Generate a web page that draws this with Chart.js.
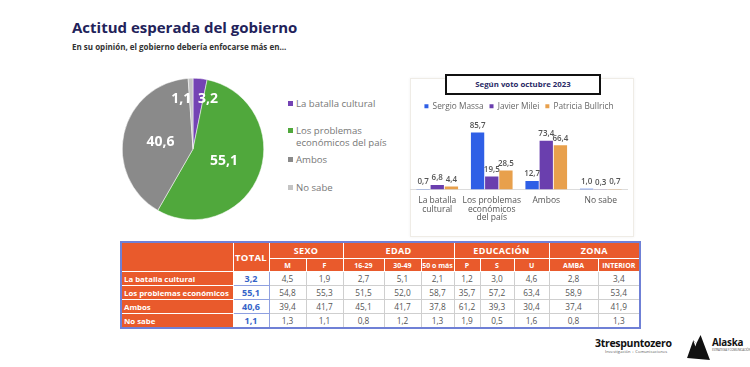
<!DOCTYPE html>
<html lang="es">
<head>
<meta charset="utf-8">
<script src="https://cdn.jsdelivr.net/npm/chart.js@4.4.1/dist/chart.umd.min.js"></script>
<style>
  html, body { margin: 0; padding: 0; background: #fff; }
  body { width: 750px; height: 367px; position: relative; overflow: hidden; font-family: "Open Sans", "Noto Sans", sans-serif; }
  .abs { position: absolute; }
  #title { left: 72px; top: 18px; font-size: 15px; font-weight: 700; color: #22225a; white-space: nowrap; line-height: 18px; }
  #subtitle { left: 72px; top: 41px; font-size: 8px; font-weight: 700; color: #333; white-space: nowrap; }
  #pieWrap { left: 122px; top: 78px; width: 142px; height: 142px; }
  #pieLegend { left: 288px; top: 95px; font-size: 9.6px; color: #777; line-height: 12px; }
  #pieLegend .item { position: absolute; left: 0; white-space: nowrap; }
  #pieLegend .sw { position: absolute; left: 0; top: 3px; width: 5px; height: 5px; }
  #pieLegend .tx { position: absolute; left: 8px; top: 0; }
  #panel { left: 410px; top: 78px; width: 222px; height: 157px; border: 1px solid #efece6; box-shadow: 0 0 3px rgba(0,0,0,0.06); }
  #panelTitle { left: 445px; top: 74px; width: 152px; height: 17px; border: 2px solid #111; background: #fff; font-size: 7.8px; font-weight: 700; color: #2a2a66; text-align: center; line-height: 17px; }
  #barWrap { left: 410px; top: 96px; width: 218px; height: 133px; }
  table { position: absolute; left: 120px; top: 241px; border-collapse: collapse; table-layout: fixed; border: 2px solid #6f80d6; }
  td, th { padding: 0; height: 13px; font-size: 8.3px; text-align: center; overflow: hidden; white-space: nowrap; }
  th { background: #e95a2c; color: #fff; font-weight: 700; border: 1px solid rgba(255,255,255,0.45); }
  th.grp { height: 15px; font-size: 9px; letter-spacing: 0.3px; }
  th.sub { font-size: 7px; height: 12px; }
  td { background: #fff; color: #555; border: 1px solid #cfcfcf; }
  td.lab { background: #e95a2c; color: #fff; font-weight: 700; text-align: left; padding-left: 2px; font-size: 7.8px; border: 1px solid rgba(255,255,255,0.35); }
  td.tot { color: #3563c8; font-weight: 700; font-size: 9px; border: 1px solid #8fa0e0; }
  #logo1 { left: 595px; top: 337px; font-size: 10.5px; line-height: 12px; font-weight: 700; color: #111; white-space: nowrap; letter-spacing: -0.3px; }
  #logo1 .sub { position: absolute; left: 10px; top: 12px; font-size: 4px; line-height: 5px; font-weight: 400; color: #555; letter-spacing: 0.1px; }
  #logo2 { left: 712px; top: 337px; font-size: 9.8px; line-height: 12px; font-weight: 700; color: #111; white-space: nowrap; letter-spacing: -0.2px; }
  #logo2 .sub { position: absolute; left: 0; top: 11px; font-size: 3px; line-height: 4px; font-weight: 400; color: #555; }
  #mount { left: 687px; top: 335px; }
</style>
</head>
<body>
<div id="title" class="abs">Actitud esperada del gobierno</div>
<div id="subtitle" class="abs">En su opinión, el gobierno debería enfocarse más en...</div>

<div id="pieWrap" class="abs"><canvas id="pieChart"></canvas></div>
<div id="pieLegend" class="abs"></div>

<div id="panel" class="abs"></div>
<div id="barWrap" class="abs"><canvas id="barChart"></canvas></div>
<div id="panelTitle" class="abs">Según voto octubre 2023</div>

<table id="tabla"></table>

<div id="logo1" class="abs">3trespuntozero<span class="sub">Investigación + Comunicaciones</span></div>
<svg id="mount" class="abs" width="23" height="25" viewBox="0 0 22 24">
  <path d="M0 22 L6 5 L9 8 L13 0 L22 24 Z" fill="#111"/>
  <path d="M6 5 L8 11 L9 8 Z" fill="#fff"/>
</svg>
<div id="logo2" class="abs">Alaska<span class="sub">ESTRATEGIA Y COMUNICACIÓN</span></div>

<script>
// datos del gráfico de torta
const pieLabels = ['La batalla cultural', ['Los problemas', 'económicos del país'], 'Ambos', 'No sabe'];
const pieValues = [3.2, 55.1, 40.6, 1.1];
const pieColors = ['#7443b4', '#50a83c', '#8a8a8a', '#c4c4c4'];

// datos según voto octubre 2023
const barCategories = [['La batalla', 'cultural'], ['Los problemas', 'económicos', 'del país'], 'Ambos', 'No sabe'];
const massaValues = [0.7, 85.7, 12.7, 1.0];
const mileiValues = [6.8, 19.5, 73.4, 0.3];
const bullrichValues = [4.4, 28.5, 66.4, 0.7];

// datos de la tabla
const rowLabels = ['La batalla cultural', 'Los problemas económicos', 'Ambos', 'No sabe'];
const totalValues = [3.2, 55.1, 40.6, 1.1];
const groupNames = ['SEXO', 'EDAD', 'EDUCACIÓN', 'ZONA'];
const groupSpans = [2, 3, 3, 2];
const subColumns = ['M', 'F', '16-29', '30-49', '50 o más', 'P', 'S', 'U', 'AMBA', 'INTERIOR'];
const batallaRow = [4.5, 1.9, 2.7, 5.1, 2.1, 1.2, 3.0, 4.6, 2.8, 3.4];
const problemasRow = [54.8, 55.3, 51.5, 52.0, 58.7, 35.7, 57.2, 63.4, 58.9, 53.4];
const ambosRow = [39.4, 41.7, 45.1, 41.7, 37.8, 61.2, 39.3, 30.4, 37.4, 41.9];
const noSabeRow = [1.3, 1.1, 0.8, 1.2, 1.3, 1.9, 0.5, 1.6, 0.8, 1.3];

const fmt = v => v.toFixed(1).replace('.', ',');

// leyenda de la torta
const legendTops = [3, 30, 59, 87];
const legendBox = document.getElementById('pieLegend');
pieLabels.forEach((lab, i) => {
    const item = document.createElement('div');
    item.className = 'item';
    item.style.top = legendTops[i] + 'px';
    const lines = Array.isArray(lab) ? lab : [lab];
    item.innerHTML = '<span class="sw" style="background:' + pieColors[i] + '"></span><span class="tx">' + lines.join('<br>') + '</span>';
    legendBox.appendChild(item);
});

// etiquetas dentro de la torta
const pieLabelPlugin = {
    id: 'pieLabels',
    afterDatasetsDraw(chart) {
        const ctx = chart.ctx;
        const meta = chart.getDatasetMeta(0);
        ctx.save();
        ctx.fillStyle = '#fff';
        ctx.font = 'bold 14px "Open Sans", sans-serif';
        ctx.textBaseline = 'middle';
        meta.data.forEach((arc, i) => {
            const p = arc.getProps(['x', 'y', 'startAngle', 'endAngle', 'outerRadius'], true);
            const mid = (p.startAngle + p.endAngle) / 2;
            const v = pieValues[i];
            const small = v < 5;
            const r = p.outerRadius * (small ? 0.71 : 0.47);
            const x = p.x + Math.cos(mid) * r;
            const y = p.y + Math.sin(mid) * r;
            if (small) {
                ctx.textAlign = x > p.x ? 'left' : 'right';
            } else {
                ctx.textAlign = 'center';
            }
            ctx.fillText(fmt(v), x, y);
        });
        ctx.restore();
    }
};

new Chart(document.getElementById('pieChart'), {
    type: 'pie',
    data: {
        labels: pieLabels.map(l => Array.isArray(l) ? l.join(' ') : l),
        datasets: [{
            data: pieValues,
            backgroundColor: pieColors,
            borderColor: '#fff',
            borderWidth: 0.5,
            hoverOffset: 0
        }]
    },
    options: {
        responsive: true,
        maintainAspectRatio: false,
        animation: false,
        layout: { padding: 0 },
        plugins: { legend: { display: false }, tooltip: { enabled: false } }
    },
    plugins: [pieLabelPlugin]
});

// etiquetas sobre las barras
const barLabelPlugin = {
    id: 'barLabels',
    afterDatasetsDraw(chart) {
        const ctx = chart.ctx;
        ctx.save();
        ctx.fillStyle = '#555';
        ctx.font = '600 8px "Open Sans", sans-serif';
        ctx.textAlign = 'center';
        ctx.textBaseline = 'bottom';
        chart.data.datasets.forEach((ds, di) => {
            chart.getDatasetMeta(di).data.forEach((bar, i) => {
                ctx.fillText(fmt(ds.data[i]), bar.x, bar.y - 3);
            });
        });
        ctx.restore();
    }
};

new Chart(document.getElementById('barChart'), {
    type: 'bar',
    data: {
        labels: barCategories,
        datasets: [
            { label: 'Sergio Massa', data: massaValues, backgroundColor: '#2f5fe6' },
            { label: 'Javier Milei', data: mileiValues, backgroundColor: '#6a3fae' },
            { label: 'Patricia Bullrich', data: bullrichValues, backgroundColor: '#e8a04c' }
        ]
    },
    options: {
        responsive: true,
        maintainAspectRatio: false,
        animation: false,
        layout: { padding: 0 },
        datasets: { bar: { categoryPercentage: 0.78, barPercentage: 0.94 } },
        scales: {
            x: {
                grid: { display: false, drawTicks: false },
                border: { display: true, color: '#dcdcdc' },
                ticks: { color: '#555', font: { size: 8.5, family: '"Open Sans", sans-serif', lineHeight: 1.0 }, padding: 7, maxRotation: 0, autoSkip: false }
            },
            y: {
                display: false,
                min: 0,
                max: 104
            }
        },
        plugins: {
            legend: {
                position: 'top',
                labels: {
                    usePointStyle: true,
                    pointStyle: 'rect',
                    boxWidth: 4,
                    boxHeight: 4,
                    padding: 6,
                    color: '#666',
                    font: { size: 8.3, family: '"Open Sans", sans-serif' }
                }
            },
            tooltip: { enabled: false }
        }
    },
    plugins: [barLabelPlugin]
});

// tabla
const colWidths = [112, 36, 37, 37, 41, 37, 33, 26, 34, 35, 49, 42];
const tableRows = [batallaRow, problemasRow, ambosRow, noSabeRow];
const tabla = document.getElementById('tabla');
let html = '<colgroup>' + colWidths.map(w => '<col style="width:' + w + 'px">').join('') + '</colgroup>';
html += '<tr><th class="grp" rowspan="2"></th><th class="grp" rowspan="2" style="font-size:9.5px">TOTAL</th>';
groupNames.forEach((g, i) => { html += '<th class="grp" colspan="' + groupSpans[i] + '">' + g + '</th>'; });
html += '</tr><tr>';
subColumns.forEach(c => { html += '<th class="sub">' + c + '</th>'; });
html += '</tr>';
rowLabels.forEach((lab, r) => {
    html += '<tr><td class="lab">' + lab + '</td><td class="tot">' + fmt(totalValues[r]) + '</td>';
    tableRows[r].forEach(v => { html += '<td>' + fmt(v) + '</td>'; });
    html += '</tr>';
});
tabla.innerHTML = html;
tabla.style.width = colWidths.reduce((a, b) => a + b, 0) + 'px';
</script>
</body>
</html>
